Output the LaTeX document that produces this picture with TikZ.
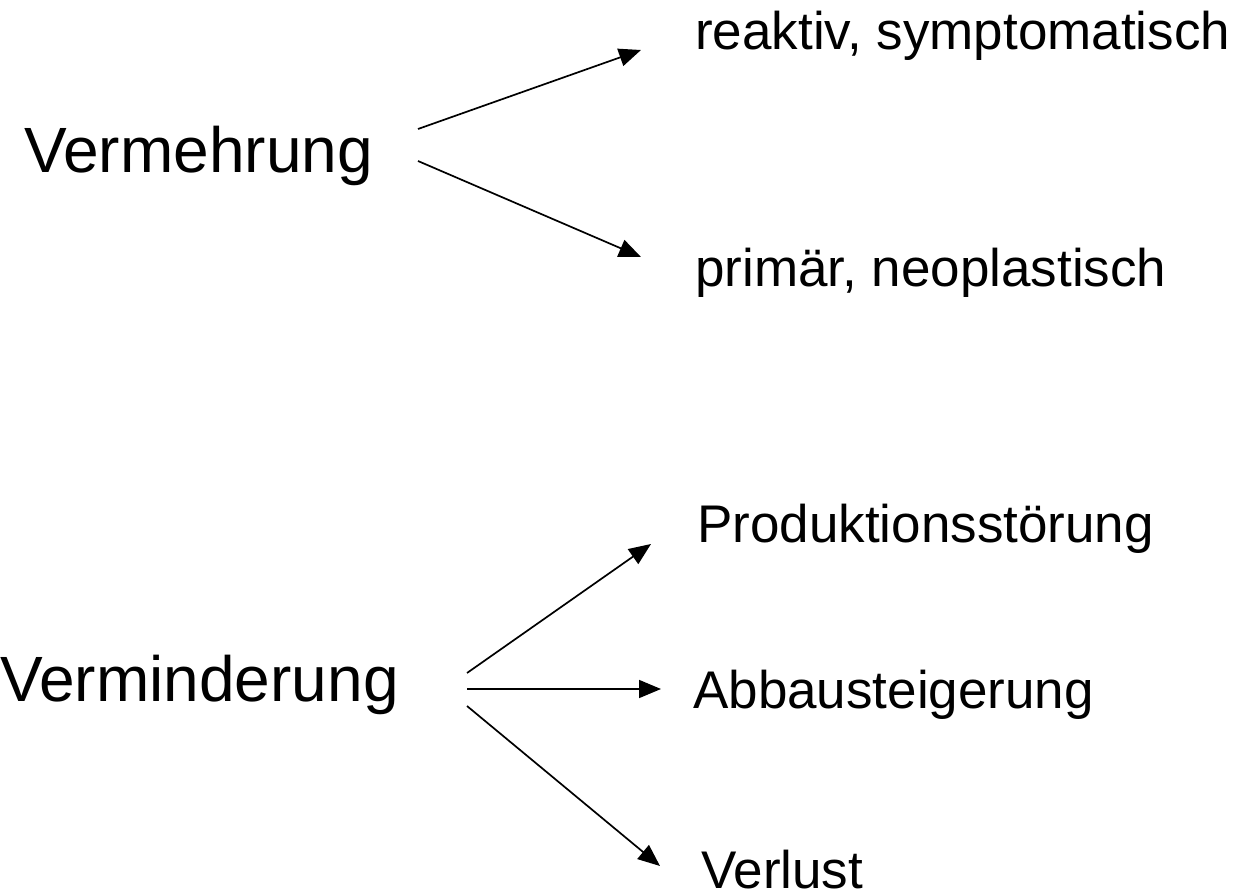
\documentclass[tikz,border=0pt]{standalone}
\usepackage{fontspec}
\setmainfont{Liberation Sans}
\usetikzlibrary{arrows.meta}
\tikzset{
  big/.style={anchor=base west, inner sep=0pt, font=\fontsize{64}{70}\selectfont},
  lbl/.style={anchor=base west, inner sep=0pt, font=\fontsize{53}{60}\selectfont},
  conn/.style={line width=1.7pt, -{Triangle[length=22pt,width=18pt]}}
}
\begin{document}
\begin{tikzpicture}[x=1pt,y=-1pt]
\useasboundingbox (0,0) rectangle (1243,896);
% source nodes
\node[big] (verm) at (24,173) {Vermehrung};
\node[big] (vermin) at (0,701) {Verminderung};
% target nodes
\node[lbl] (reak) at (695,50) {reaktiv, symptomatisch};
\node[lbl] (prim) at (695,287) {primär, neoplastisch};
\node[lbl] (prod) at (697,542) {Produktionsstörung};
\node[lbl] (abb) at (693,708) {Abbausteigerung};
\node[lbl] (verl) at (701,888) {Verlust};
% connector endpoints
\coordinate (s1) at (418,129);
\coordinate (e1) at (641,50);
\coordinate (s2) at (418,161);
\coordinate (e2) at (641,257);
\coordinate (s3) at (467,673);
\coordinate (e3) at (651,544);
\coordinate (s4) at (467,689);
\coordinate (e4) at (661,689);
\coordinate (s5) at (467,706);
\coordinate (e5) at (660,866);
\draw[conn] (s1) -- (e1);
\draw[conn] (s2) -- (e2);
\draw[conn] (s3) -- (e3);
\draw[conn] (s4) -- (e4);
\draw[conn] (s5) -- (e5);
\end{tikzpicture}
\end{document}
